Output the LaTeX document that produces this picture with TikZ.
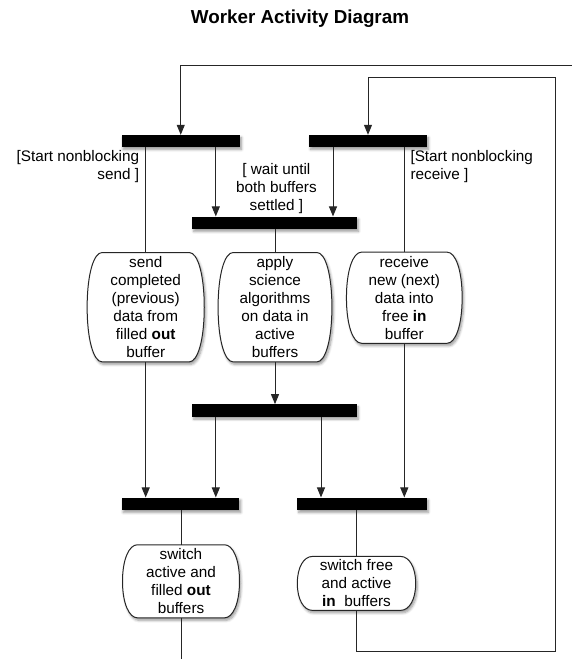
\documentclass[tikz,border=0pt]{standalone}
\usepackage{fontspec}
\setmainfont{Liberation Sans}
\usetikzlibrary{arrows.meta,calc,shadows,shadows.blur,backgrounds}
\newcommand\actshape[1]{%
  \begin{scope}[on background layer]
  \draw[conn, fill=white, shadowed]
    ($(#1.north west)+(15,0)$) -- ($(#1.north east)+(-15,0)$)
    .. controls ($(#1.north east)+(-6.5,0)$) and ($(#1.north east)!0.2!(#1.south east)$) .. (#1.east)
    .. controls ($(#1.south east)!0.2!(#1.north east)$) and ($(#1.south east)+(-6.5,0)$) .. ($(#1.south east)+(-15,0)$)
    -- ($(#1.south west)+(15,0)$)
    .. controls ($(#1.south west)+(6.5,0)$) and ($(#1.south west)!0.2!(#1.north west)$) .. (#1.west)
    .. controls ($(#1.north west)!0.2!(#1.south west)$) and ($(#1.north west)+(6.5,0)$) .. cycle;
  \end{scope}}
\begin{document}
\begin{tikzpicture}[x=1pt,y=-1pt,
  shadowed/.style={blur shadow={shadow xshift=1.5pt, shadow yshift=-2.5pt, shadow blur radius=2.5pt, shadow blur steps=6, shadow opacity=40}},
  lbl/.style={font=\fontsize{15.3}{18}\selectfont, inner sep=0pt},
  bar/.style={fill=black, draw=none, inner sep=0pt, rectangle, shadowed},
  actnode/.style={inner sep=0pt, align=center, font=\fontsize{15.3}{18}\selectfont},
  conn/.style={line width=1pt, draw=black!85},
  arr/.style={conn, -{Triangle[length=10pt,width=8pt]}}]
\useasboundingbox (0,0) rectangle (572,659);

\node[font=\fontsize{18.8}{22}\selectfont\bfseries, anchor=base, inner sep=0pt] (title) at (300,23.5) {Worker Activity Diagram};

% bars
\node[bar, minimum width=118.5pt, minimum height=12pt] (barA) at (180.75,141) {};
\node[bar, minimum width=118pt, minimum height=12pt] (barB) at (368,141) {};
\node[bar, minimum width=164.7pt, minimum height=12.3pt] (barC) at (274.6,222.8) {};
\node[bar, minimum width=164.4pt, minimum height=12.3pt] (barD) at (274.5,410.5) {};
\node[bar, minimum width=117.6pt, minimum height=12.3pt] (barE) at (180.5,503.8) {};
\node[bar, minimum width=129.4pt, minimum height=12.3pt] (barF) at (362,503.8) {};

% activity boxes
\node[actnode, minimum width=116.7pt, minimum height=109pt] (send) at (145.7,307.2)
  {send\\completed\\(previous)\\data from\\filled \textbf{out}\\buffer};
\node[actnode, minimum width=113.4pt, minimum height=109pt] (apply) at (275,307.2)
  {apply\\science\\algorithms\\on data in\\active\\buffers};
\node[actnode, minimum width=115.3pt, minimum height=90.7pt] (recv) at (404.3,297.7)
  {receive\\new (next)\\data into\\free \textbf{in}\\buffer};
\node[actnode, minimum width=116.6pt, minimum height=72.7pt] (swA) at (181,581.3)
  {switch\\active and\\filled \textbf{out}\\buffers};
\node[actnode, minimum width=118pt, minimum height=53.5pt] (swF) at (356.5,583.4)
  {switch free\\and active\\\textbf{in}~ buffers};
\actshape{send}
\actshape{apply}
\actshape{recv}
\actshape{swA}
\actshape{swF}

% guard labels
\node[lbl, align=right, anchor=north east] (lsend) at (139.3,150.5) {[Start nonblocking\\send ]};
\node[lbl, align=left, anchor=north west] (lrecv) at (410.3,150.5) {[Start nonblocking\\receive ]};
\node[lbl, align=center, anchor=north] (lwait) at (276.4,163.5) {[ wait until\\both buffers\\settled ]};

% helper coordinates
\coordinate (loopA) at (572,65);
\coordinate (rb) at (555.5,651);
\coordinate (rt) at (555.5,77.5);
\coordinate (bot) at (181,659);
\coordinate (x216) at (215.8,0);
\coordinate (x333) at (333,0);
\coordinate (x321) at (321,0);

% connectors
\draw[arr] (loopA) -| (barA.north);
\draw[arr] (swF.south) |- (rb) -- (rt) -| (barB.north);
\draw[conn] (barA.south -| send.north) -- (send.north);
\draw[arr] (barA.south -| x216) -- (barC.north -| x216);
\draw[arr] (barB.south -| x333) -- (barC.north -| x333);
\draw[conn] (barB.south -| recv.north) -- (recv.north);
\draw[conn] (barC.south -| apply.north) -- (apply.north);
\draw[arr] (send.south) -- (barE.north -| send.south);
\draw[arr] (apply.south) -- (barD.north -| apply.south);
\draw[arr] (recv.south) -- (barF.north -| recv.south);
\draw[arr] (barD.south -| x216) -- (barE.north -| x216);
\draw[arr] (barD.south -| x321) -- (barF.north -| x321);
\draw[conn] (barE.south -| swA.north) -- (swA.north);
\draw[conn] (swA.south) -- (swA.south |- bot);
\draw[conn] (barF.south -| swF.north) -- (swF.north);
\end{tikzpicture}
\end{document}
